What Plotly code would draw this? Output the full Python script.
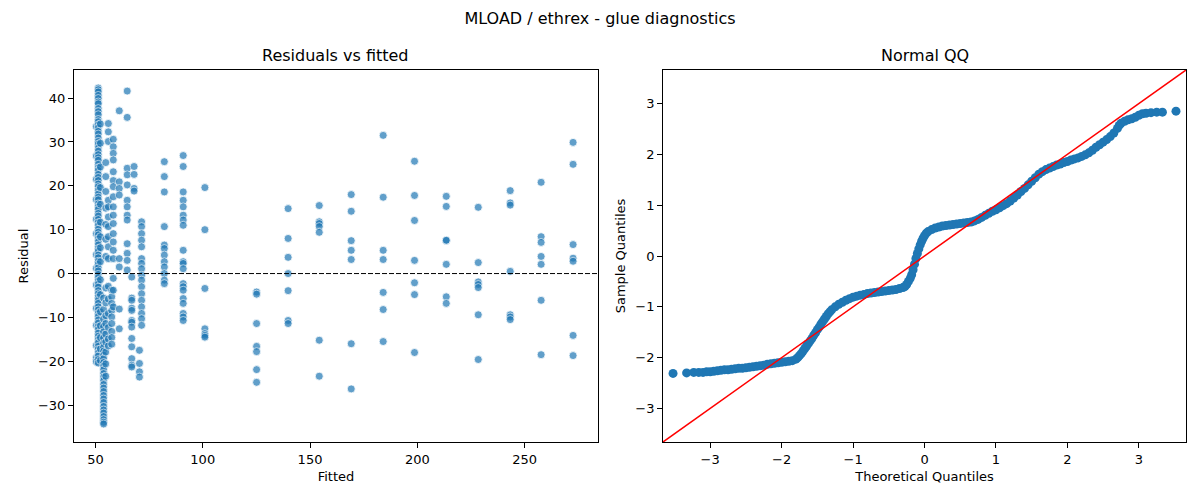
import plotly.graph_objects as go

# Residuals vs fitted: one list of residuals per fitted level
fitted_levels = [50.4, 51.3, 52.3, 53.8, 54.8, 56.0, 57.6, 58.3, 61.1, 64.8,
                 66.9, 68.0, 70.5, 71.5, 82.1, 90.9, 101.0, 125.1, 139.8, 154.3,
                 169.2, 184.1, 198.7, 213.5, 228.4, 243.3, 257.7, 272.6]

res_50 = [33.5, 26.8, 21.5, 16.9, 12.4, 9.1, 4.3, 1.2, -2.6, -7.9, -11.8, -16.4, -19.2, -20.1]
res_51 = [42.3, 41.9, 41.4, 40.6, 39.9, 39.1, 38.7, 37.6, 36.9, 36.2, 35.1, 34.6, 33.9, 33.2,
          32.4, 31.8, 30.9, 30.1, 29.5, 28.6, 27.9, 27.1, 26.4, 25.8, 24.9, 24.1, 23.5, 22.6,
          21.9, 21.2, 20.4, 19.8, 18.9, 18.1, 17.4, 16.8, 15.9, 15.2, 14.6, 13.7, 13.1, 12.3,
          11.6, 10.9, 10.1, 9.4, 8.8, 7.9, 7.2, 6.5, 5.7, 5.1, 4.2, 3.6, 2.8, 2.1, 1.3, 0.6,
          -0.2, -0.9, -1.7, -2.4, -3.1, -3.9, -4.6, -5.4, -6.1, -6.8, -7.6, -8.3, -9.1, -9.8,
          -10.6, -11.3, -12.1, -12.8, -13.6, -14.3, -15.1, -15.8, -16.6, -17.3, -18.1, -18.8,
          -19.6, -20.4]
res_52 = [34.1, 29.7, 24.3, 19.6, 15.8, 11.7, 8.4, 5.9, 2.7, -1.4, -4.8, -8.7, -11.9, -14.6,
          -17.2, -19.8]
res_54 = [-5.6, -8.2, -10.4, -12.1, -13.3, -14.7, -15.9, -16.8, -17.7, -18.6, -19.4, -20.3,
          -21.1, -21.9, -22.8, -23.6, -24.4, -25.3, -26.1, -26.9, -27.8, -28.6, -29.4, -30.3,
          -31.1, -31.8, -32.6, -33.3, -33.9, -34.3]
res_55 = [25.3, 22.1, 18.7, 14.9, 11.2, 7.8, 3.9, -3.3, -6.7, -9.6, -11.4, -13.8, -15.6, -17.9,
          -20.6, -23.4]
res_56 = [34.2, 32.3, 30.1, 16.7, 15.2, 12.9, 10.7, 8.4, 6.1, 3.4, -2.9, -5.8, -9.1, -12.3,
          -14.9, -16.5]
res_57 = [-3.8, -5.3, -6.8, -8.4, -9.9, -11.4, -13.2, -14.6, -16.1]
res_58 = [30.6, 28.9, 27.4, 25.9, 23.2, 21.2, 19.8, 17.5, 15.2, 13.3, 11.4, 9.1, 7.2, 5.3, 3.4,
          -1.1, -3.8, -7.6]
res_61 = [37.1, 20.9, 19.4, 17.9, 3.4, 1.5, -8.1, -12.6]
res_65 = [41.6, 35.6, 24.0, 22.5, 20.2, 16.7, 15.2, 13.3, 12.2, 6.8, 4.6, 3.0, 0.8]
res_67 = [-0.8, -5.6, -6.1, -7.9, -8.4, -10.7, -11.1, -12.2, -14.8, -16.7, -19.4, -20.9, -21.3]
res_68 = [24.4, 22.6, 19.4, 18.8]
res_70 = [-17.5, -20.5, -22.4, -23.6]
res_72 = [11.8, 10.7, 9.1, 7.6, 6.1, 3.4, 2.3, 1.1, -0.4, -1.5, -3.0, -4.6, -6.1, -7.6, -9.1,
          -10.3, -11.8]
res_82 = [25.5, 22.1, 18.6, 10.7, 6.5, 5.7, 4.2, 2.7, 1.5, 0.0, -1.5, -2.3]
res_91 = [26.9, 24.4, 18.6, 16.7, 15.2, 13.3, 12.2, 11.0, 5.3, 2.7, 2.3, 1.1, -2.3, -3.0, -3.8,
          -5.7, -6.8, -9.1, -9.9, -10.7]
res_101 = [19.6, 10.0, -3.4, -12.6, -13.7, -14.1, -14.5]
res_125 = [-4.2, -4.7, -11.4, -16.6, -17.8, -21.9, -24.8]
res_140 = [14.8, 8.0, 3.7, 0.0, -3.9, -10.7, -11.4]
res_154 = [15.5, 11.8, 11.4, 10.7, 9.4, -15.2, -23.4]
res_169 = [18.0, 14.2, 7.5, 5.3, 3.2, -16.0, -26.3]
res_184 = [31.5, 17.4, 5.3, 3.2, -4.3, -8.2, -15.5]
res_199 = [25.6, 17.8, 12.1, 3.0, -2.1, -4.8, -18.0]
res_213 = [17.6, 15.3, 7.5, 7.6, 2.1, -5.3, -6.8]
res_228 = [15.1, 2.5, -1.9, -2.5, -3.2, -9.4, -19.6]
res_243 = [18.9, 16.1, 15.6, 0.5, -9.4, -9.9, -10.5]
res_258 = [20.8, 8.4, 7.1, 3.9, 2.1, -6.1, -18.5]
res_273 = [29.9, 24.9, 6.6, 3.5, 2.8, -14.1, -18.7]

res_groups = [res_50, res_51, res_52, res_54, res_55, res_56, res_57, res_58, res_61, res_65,
              res_67, res_68, res_70, res_72, res_82, res_91, res_101, res_125, res_140, res_154,
              res_169, res_184, res_199, res_213, res_228, res_243, res_258, res_273]

# Normal QQ: theoretical vs sample quantiles
theo_q = [-3.52, -3.33, -3.23, -3.16, -3.10, -3.05, -3.00, -2.95, -2.90, -2.85, -2.80, -2.75,
          -2.70, -2.65, -2.60, -2.55, -2.50, -2.45, -2.40, -2.35, -2.30, -2.25, -2.20, -2.15,
          -2.10, -2.05, -2.00, -1.95, -1.90, -1.85, -1.80, -1.775, -1.75, -1.725, -1.70,
          -1.675, -1.65, -1.625, -1.60, -1.575, -1.55, -1.525, -1.50, -1.475, -1.45, -1.425,
          -1.40, -1.375, -1.35, -1.325, -1.30, -1.25, -1.20, -1.15, -1.10, -1.05, -1.00,
          -0.95, -0.90, -0.85, -0.80, -0.75, -0.70, -0.65, -0.60, -0.55, -0.50, -0.45, -0.40,
          -0.35, -0.30, -0.275, -0.25, -0.225, -0.20, -0.18, -0.16, -0.14, -0.12, -0.10,
          -0.08, -0.06, -0.04, -0.02, 0.00, 0.025, 0.05, 0.10, 0.15, 0.20, 0.25, 0.30, 0.35,
          0.40, 0.45, 0.50, 0.55, 0.60, 0.65, 0.70, 0.75, 0.80, 0.85, 0.90, 0.95, 1.00, 1.05,
          1.10, 1.15, 1.20, 1.25, 1.30, 1.35, 1.40, 1.45, 1.50, 1.55, 1.60, 1.65, 1.70, 1.75,
          1.80, 1.85, 1.90, 1.95, 2.00, 2.05, 2.10, 2.15, 2.20, 2.25, 2.30, 2.35, 2.40, 2.45,
          2.50, 2.55, 2.60, 2.65, 2.70, 2.725, 2.75, 2.80, 2.85, 2.90, 2.95, 3.00, 3.05, 3.10,
          3.17, 3.25, 3.33, 3.52]
sample_q = [-2.31, -2.30, -2.29, -2.29, -2.29, -2.28, -2.28, -2.27, -2.26, -2.25, -2.24, -2.24,
            -2.23, -2.22, -2.21, -2.21, -2.20, -2.19, -2.18, -2.17, -2.16, -2.15, -2.13, -2.12,
            -2.11, -2.10, -2.09, -2.08, -2.07, -2.06, -2.03, -2.00, -1.96, -1.92, -1.87,
            -1.82, -1.77, -1.72, -1.67, -1.62, -1.56, -1.51, -1.45, -1.40, -1.34, -1.29,
            -1.24, -1.19, -1.14, -1.10, -1.06, -1.00, -0.95, -0.91, -0.87, -0.84, -0.81,
            -0.79, -0.77, -0.76, -0.74, -0.73, -0.72, -0.71, -0.70, -0.69, -0.68, -0.67, -0.66,
            -0.64, -0.62, -0.60, -0.56, -0.50, -0.44, -0.37, -0.27, -0.16, -0.05, 0.05,
            0.14, 0.22, 0.29, 0.35, 0.40, 0.45, 0.48, 0.52, 0.55, 0.57, 0.59, 0.60, 0.61,
            0.62, 0.63, 0.64, 0.65, 0.66, 0.67, 0.69, 0.72, 0.76, 0.80, 0.84, 0.88, 0.91, 0.95,
            0.99, 1.03, 1.08, 1.14, 1.20, 1.27, 1.33, 1.40, 1.47, 1.54, 1.61, 1.66, 1.70, 1.73,
            1.76, 1.79, 1.81, 1.84, 1.86, 1.89, 1.91, 1.93, 1.96, 1.99, 2.03, 2.08, 2.14, 2.19,
            2.24, 2.29, 2.35, 2.42, 2.51, 2.57, 2.61, 2.65, 2.68, 2.70, 2.73, 2.77, 2.80, 2.81,
            2.82, 2.83, 2.83, 2.85]

qq_lim = [-3.66, 3.66]
zero_ref = 0

# Flatten the residual groups
fitted = []
residual = []
for level, vals in zip(fitted_levels, res_groups):
    for v in vals:
        fitted.append(level)
        residual.append(v)

font_family = "DejaVu Sans, sans-serif"

trace_resid = go.Scatter(
    x=fitted,
    y=residual,
    mode="markers",
    marker=dict(color="#1f77b4", size=8, opacity=0.7,
                line=dict(color="white", width=0.8)),
    xaxis="x",
    yaxis="y",
    showlegend=False,
)

trace_qq = go.Scatter(
    x=theo_q,
    y=sample_q,
    mode="markers",
    marker=dict(color="#1f77b4", size=9),
    xaxis="x2",
    yaxis="y2",
    showlegend=False,
)

trace_line = go.Scatter(
    x=qq_lim,
    y=qq_lim,
    mode="lines",
    line=dict(color="red", width=1.5),
    xaxis="x2",
    yaxis="y2",
    showlegend=False,
)

axis_style = dict(
    showline=True,
    linecolor="black",
    linewidth=1,
    mirror=True,
    ticks="outside",
    ticklen=5,
    tickwidth=1,
    tickcolor="black",
    showgrid=False,
    zeroline=False,
    tickfont=dict(size=13, color="black"),
)

layout = go.Layout(
    width=1200,
    height=500,
    plot_bgcolor="white",
    paper_bgcolor="white",
    font=dict(family=font_family, size=13, color="black"),
    margin=dict(l=74, r=14, t=70, b=58),
    title=dict(text="MLOAD / ethrex - glue diagnostics", x=0.5, xref="container",
               y=0.964, yanchor="middle", xanchor="center", font=dict(size=16)),
    xaxis=dict(domain=[0, 0.4712], range=[40, 284.2], tickvals=[50, 100, 150, 200, 250],
               title=dict(text="Fitted", standoff=6, font=dict(size=13)), **axis_style),
    yaxis=dict(range=[-38.4, 46.4], tickvals=[-30, -20, -10, 0, 10, 20, 30, 40],
               title=dict(text="Residual", standoff=6, font=dict(size=13)), **axis_style),
    xaxis2=dict(domain=[0.5297, 1], range=qq_lim, tickvals=[-3, -2, -1, 0, 1, 2, 3],
                title=dict(text="Theoretical Quantiles", standoff=6, font=dict(size=13)),
                anchor="y2", **axis_style),
    yaxis2=dict(range=qq_lim, tickvals=[-3, -2, -1, 0, 1, 2, 3], anchor="x2",
                title=dict(text="Sample Quantiles", standoff=6, font=dict(size=13)),
                **axis_style),
    shapes=[dict(type="line", xref="x domain", yref="y", x0=0, x1=1, y0=zero_ref, y1=zero_ref,
                 line=dict(color="black", width=1, dash="5px,2px"), layer="above")],
    annotations=[
        dict(text="Residuals vs fitted", xref="paper", yref="paper", x=0.4712 / 2, y=1,
             xanchor="center", yanchor="bottom", yshift=3, showarrow=False,
             font=dict(size=16)),
        dict(text="Normal QQ", xref="paper", yref="paper", x=(0.5297 + 1) / 2, y=1,
             xanchor="center", yanchor="bottom", yshift=3, showarrow=False,
             font=dict(size=16)),
    ],
)

fig = go.Figure(data=[trace_resid, trace_qq, trace_line], layout=layout)

# drop the default page margin so the figure sits at the window's corner
fig.write_html("out.html", config={"displayModeBar": False},
               post_script="document.body.style.margin = '0';")
